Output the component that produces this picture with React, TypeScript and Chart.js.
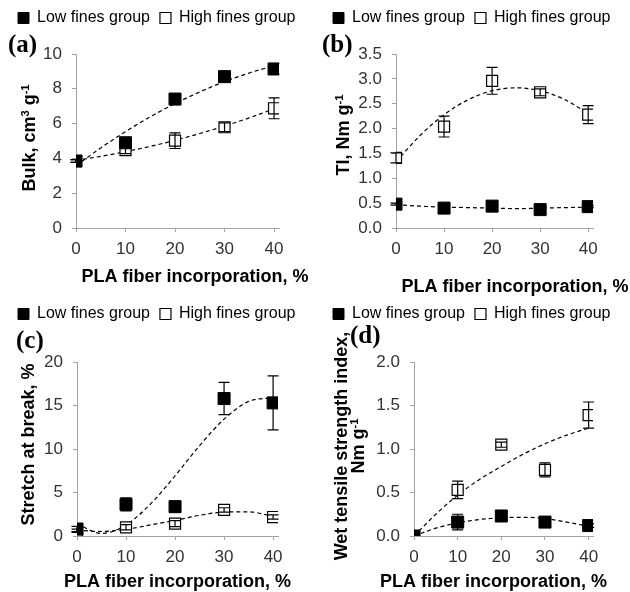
import React, { useEffect, useRef } from 'react';
import { Chart, registerables, layouts } from 'chart.js';

Chart.register(...registerables);

const FONT = '"Liberation Sans", Arial, Helvetica, sans-serif';
const SERIF = '"Liberation Serif", "Times New Roman", serif';
const AXIS = '#a3a3a3';
const TICK_COLOR = '#333333';

// ---------- shared data ----------
const SERIES_NAMES = ['Low fines group', 'High fines group'];
const X_VALUES = [0, 10, 20, 30, 40];
const X_TICKS = [0, 10, 20, 30, 40];
const X_MAX = 41;
const TREND_X = [0, 5, 10, 15, 20, 25, 30, 35, 40];
const X_TITLE = 'PLA fiber incorporation, %';
const PANEL_LABELS = ['(a)', '(b)', '(c)', '(d)'];

// ---------- (a) Bulk ----------
const BULK_TICKS = [0, 2, 4, 6, 8, 10];
const BULK_LOW = [3.85, 4.9, 7.41, 8.7, 9.14];
const BULK_LOW_ERR = [0.08, 0.12, 0.1, 0.1, 0.3];
const BULK_HIGH = [3.85, 4.48, 5.02, 5.79, 6.88];
const BULK_HIGH_ERR = [0.08, 0.2, 0.45, 0.25, 0.6];
const BULK_LOW_TREND = [3.58, 4.6, 5.54, 6.39, 7.15, 7.82, 8.41, 8.91, 9.33];
const BULK_HIGH_TREND = [3.89, 4.12, 4.39, 4.69, 5.04, 5.43, 5.86, 6.33, 6.85];

// ---------- (b) TI ----------
const TI_TICKS = [0, 0.5, 1.0, 1.5, 2.0, 2.5, 3.0, 3.5];
const TI_LOW = [0.48, 0.4, 0.44, 0.37, 0.43];
const TI_LOW_ERR = [0.02, 0.02, 0.02, 0.02, 0.02];
const TI_HIGH = [1.41, 2.04, 2.96, 2.73, 2.28];
const TI_HIGH_ERR = [0.1, 0.21, 0.27, 0.07, 0.18];
const TI_LOW_TREND = [0.47, 0.44, 0.42, 0.41, 0.4, 0.39, 0.4, 0.41, 0.42];
const TI_HIGH_TREND = [1.33, 1.86, 2.28, 2.58, 2.76, 2.82, 2.76, 2.59, 2.3];

// ---------- (c) Stretch ----------
const STRETCH_TICKS = [0, 5, 10, 15, 20];
const STRETCH_LOW = [0.8, 3.64, 3.37, 15.8, 15.3];
const STRETCH_LOW_ERR = [0.3, 0.75, 0.6, 1.85, 3.1];
const STRETCH_HIGH = [0.6, 1.0, 1.42, 3.0, 2.18];
const STRETCH_HIGH_ERR = [0.2, 0.3, 0.35, 0.25, 0.25];
const STRETCH_LOW_TREND = [1.39, 0.3, 1.27, 3.68, 6.92, 10.38, 13.43, 15.47, 15.89];
const STRETCH_HIGH_TREND = [0.68, 0.52, 0.77, 1.27, 1.8, 2.38, 2.75, 2.78, 2.25];

// ---------- (d) Wet tensile ----------
const WET_TICKS = [0, 0.5, 1.0, 1.5, 2.0];
const WET_LOW = [0, 0.16, 0.23, 0.16, 0.12];
const WET_LOW_ERR = [0, 0.09, 0.02, 0.02, 0.02];
const WET_HIGH = [0, 0.53, 1.05, 0.76, 1.39];
const WET_HIGH_ERR = [0, 0.1, 0.03, 0.08, 0.15];
const WET_LOW_TREND = [0.0, 0.09, 0.15, 0.19, 0.21, 0.215, 0.2, 0.16, 0.11];
const WET_HIGH_TREND = [0.0, 0.25, 0.47, 0.65, 0.8, 0.94, 1.06, 1.16, 1.24];

type Seg = { text: string; sup?: boolean };

const Y_TITLE_A: Seg[][] = [[{ text: 'Bulk, cm' }, { text: '3', sup: true }, { text: ' g' }, { text: '-1', sup: true }]];
const Y_TITLE_B: Seg[][] = [[{ text: 'TI, Nm g' }, { text: '-1', sup: true }]];
const Y_TITLE_C: Seg[][] = [[{ text: 'Stretch at break, %' }]];
const Y_TITLE_D: Seg[][] = [[{ text: 'Wet tensile strength index,' }], [{ text: 'Nm g' }, { text: '-1', sup: true }]];

const PANEL_W = 315;
const PANEL_H = 296;
const LEGEND_H = 36;
const PAD_LEFT = 8;
const TICK_SIZE = 17;

interface PanelSpec {
  pos: { left: number; top: number };
  label: string;
  labelX: number;
  labelY: number;
  yTitle: Seg[][];
  yTitleX: number[];
  yTitleY: number;
  xTitleX: number;
  xTitleY: number;
  area: { left: number; right: number; top: number; bottom: number };
  yTicks: number[];
  yDecimals: number;
  low: number[];
  lowErr: number[];
  high: number[];
  highErr: number[];
  lowTrend: number[];
  highTrend: number[];
}

const PANELS: PanelSpec[] = [
  {
    pos: { left: 0, top: 0 }, label: PANEL_LABELS[0], labelX: 8, labelY: 46,
    yTitle: Y_TITLE_A, yTitleX: [29], yTitleY: 138, xTitleX: 195, xTitleY: 276,
    area: { left: 76, right: 279, top: 54, bottom: 228 }, yTicks: BULK_TICKS, yDecimals: 0,
    low: BULK_LOW, lowErr: BULK_LOW_ERR, high: BULK_HIGH, highErr: BULK_HIGH_ERR,
    lowTrend: BULK_LOW_TREND, highTrend: BULK_HIGH_TREND,
  },
  {
    pos: { left: 315, top: 0 }, label: PANEL_LABELS[1], labelX: 7, labelY: 45.5,
    yTitle: Y_TITLE_B, yTitleX: [28], yTitleY: 135, xTitleX: 200, xTitleY: 286,
    area: { left: 81, right: 278, top: 54, bottom: 228 }, yTicks: TI_TICKS, yDecimals: 1,
    low: TI_LOW, lowErr: TI_LOW_ERR, high: TI_HIGH, highErr: TI_HIGH_ERR,
    lowTrend: TI_LOW_TREND, highTrend: TI_HIGH_TREND,
  },
  {
    pos: { left: 0, top: 296 }, label: PANEL_LABELS[2], labelX: 16, labelY: 45.5,
    yTitle: Y_TITLE_C, yTitleX: [28], yTitleY: 148.5, xTitleX: 177.5, xTitleY: 285,
    area: { left: 77, right: 278, top: 66, bottom: 240 }, yTicks: STRETCH_TICKS, yDecimals: 0,
    low: STRETCH_LOW, lowErr: STRETCH_LOW_ERR, high: STRETCH_HIGH, highErr: STRETCH_HIGH_ERR,
    lowTrend: STRETCH_LOW_TREND, highTrend: STRETCH_HIGH_TREND,
  },
  {
    pos: { left: 315, top: 296 }, label: PANEL_LABELS[3], labelX: 35, labelY: 41,
    yTitle: Y_TITLE_D, yTitleX: [25.5, 43], yTitleY: 150, xTitleX: 178.5, xTitleY: 285,
    area: { left: 99, right: 278, top: 66, bottom: 240 }, yTicks: WET_TICKS, yDecimals: 1,
    low: WET_LOW, lowErr: WET_LOW_ERR, high: WET_HIGH, highErr: WET_HIGH_ERR,
    lowTrend: WET_LOW_TREND, highTrend: WET_HIGH_TREND,
  },
];

function drawRich(ctx: CanvasRenderingContext2D, segs: Seg[], size: number, cx: number, cy: number) {
  const supSize = size * 0.62;
  const fontFor = (sup?: boolean) => `bold ${sup ? supSize : size}px ${FONT}`;
  let total = 0;
  const widths = segs.map((sg) => {
    ctx.font = fontFor(sg.sup);
    const w = ctx.measureText(sg.text).width;
    total += w;
    return w;
  });
  let x = cx - total / 2;
  const base = cy + size * 0.36;
  ctx.textBaseline = 'alphabetic';
  ctx.textAlign = 'left';
  segs.forEach((sg, i) => {
    ctx.font = fontFor(sg.sup);
    ctx.fillText(sg.text, x, sg.sup ? base - size * 0.38 : base);
    x += widths[i];
  });
}

function makeSpacerPlugin(topSize: number, rightSize: number) {
  const mk = (position: string, size: number) => ({
    position,
    weight: 500,
    fullSize: false,
    options: {},
    left: 0, top: 0, right: 0, bottom: 0, width: 0, height: 0,
    isHorizontal() { return position === 'top' || position === 'bottom'; },
    update(maxWidth: number, maxHeight: number) {
      if (this.isHorizontal()) { this.width = maxWidth; this.height = size; }
      else { this.width = size; this.height = maxHeight; }
    },
    draw() {},
  });
  return {
    id: 'spacer',
    beforeInit(chart: any) {
      layouts.addBox(chart, mk('top', topSize) as any);
      layouts.addBox(chart, mk('right', rightSize) as any);
    },
  };
}

const errorBarPlugin = {
  id: 'errorBars',
  afterDatasetsDraw(chart: any) {
    const ctx: CanvasRenderingContext2D = chart.ctx;
    const xs = chart.scales.x;
    const ys = chart.scales.y;
    chart.data.datasets.forEach((ds: any, i: number) => {
      const errs: number[] | undefined = ds.errorBars;
      if (!errs || !chart.isDatasetVisible(i)) return;
      ctx.save();
      ctx.strokeStyle = '#000';
      ctx.lineWidth = 1.2;
      ds.data.forEach((p: any, j: number) => {
        const e = errs[j];
        if (!e) return;
        const px = xs.getPixelForValue(p.x);
        const y1 = ys.getPixelForValue(p.y + e);
        const y2 = ys.getPixelForValue(p.y - e);
        ctx.beginPath();
        ctx.moveTo(px, y1); ctx.lineTo(px, y2);
        ctx.moveTo(px - 5.5, y1); ctx.lineTo(px + 5.5, y1);
        ctx.moveTo(px - 5.5, y2); ctx.lineTo(px + 5.5, y2);
        ctx.stroke();
      });
      ctx.restore();
    });
  },
};

function makeTextPlugin(p: PanelSpec) {
  return {
    id: 'panelTexts',
    afterDraw(chart: any) {
      const ctx: CanvasRenderingContext2D = chart.ctx;
      ctx.save();
      ctx.fillStyle = '#000';
      ctx.font = `bold 25px ${SERIF}`;
      ctx.textBaseline = 'middle';
      ctx.textAlign = 'left';
      ctx.fillText(p.label, p.labelX, p.labelY);
      drawRich(ctx, [{ text: X_TITLE }], 18, p.xTitleX, p.xTitleY);
      p.yTitle.forEach((segs, li) => {
        ctx.save();
        ctx.translate(p.yTitleX[li], p.yTitleY);
        ctx.rotate(-Math.PI / 2);
        drawRich(ctx, segs, 18, 0, 0);
        ctx.restore();
      });
      ctx.restore();
    },
  };
}

function buildConfig(p: PanelSpec): any {
  const pts = (xs: number[], ys: number[]) => xs.map((x, i) => ({ x, y: ys[i] }));
  const trend = (ys: number[]) => ({
    label: 'trend',
    data: pts(TREND_X, ys),
    showLine: true,
    pointRadius: 0,
    borderColor: '#000',
    backgroundColor: '#000',
    borderWidth: 1.2,
    borderDash: [4, 3],
    cubicInterpolationMode: 'monotone',
    fill: false,
  });
  const gridOpts = { display: true, drawOnChartArea: false, drawTicks: true, tickLength: 4, color: AXIS, tickColor: AXIS, lineWidth: 1 };
  const borderOpts = { display: true, color: AXIS, width: 1 };
  return {
    type: 'scatter',
    data: {
      datasets: [
        {
          label: SERIES_NAMES[0], data: pts(X_VALUES, p.low), errorBars: p.lowErr,
          pointStyle: 'rect', pointRadius: 8.5, backgroundColor: '#000', borderColor: '#000', borderWidth: 1,
        },
        {
          label: SERIES_NAMES[1], data: pts(X_VALUES, p.high), errorBars: p.highErr,
          pointStyle: 'rect', pointRadius: 7.8, backgroundColor: '#fff', borderColor: '#000', borderWidth: 1.2,
        },
        trend(p.lowTrend),
        trend(p.highTrend),
      ],
    },
    options: {
      responsive: false,
      animation: false,
      events: [],
      layout: { padding: { left: PAD_LEFT, right: 0, top: 0, bottom: 0 } },
      plugins: {
        legend: {
          display: true,
          position: 'top',
          align: 'start',
          labels: {
            filter: (item: any) => item.datasetIndex < 2,
            boxWidth: 11,
            boxHeight: 11,
            padding: 10,
            color: '#000',
            font: { family: FONT, size: 16 },
          },
        },
        tooltip: { enabled: false },
      },
      scales: {
        x: {
          type: 'linear',
          min: X_TICKS[0],
          max: X_MAX,
          afterBuildTicks: (s: any) => { s.ticks = X_TICKS.map((v) => ({ value: v })); },
          afterFit: (s: any) => { s.height = PANEL_H - p.area.bottom; },
          ticks: {
            font: { family: FONT, size: TICK_SIZE }, color: TICK_COLOR, padding: 7,
            maxRotation: 0, autoSkip: false, callback: (v: any) => String(v),
          },
          grid: gridOpts,
          border: borderOpts,
        },
        y: {
          type: 'linear',
          min: p.yTicks[0],
          max: p.yTicks[p.yTicks.length - 1],
          afterBuildTicks: (s: any) => { s.ticks = p.yTicks.map((v) => ({ value: v })); },
          afterFit: (s: any) => { s.width = p.area.left - PAD_LEFT; },
          ticks: {
            font: { family: FONT, size: TICK_SIZE }, color: TICK_COLOR, padding: 10,
            autoSkip: false, callback: (v: any) => Number(v).toFixed(p.yDecimals),
          },
          grid: gridOpts,
          border: borderOpts,
        },
      },
    },
    plugins: [makeSpacerPlugin(p.area.top - LEGEND_H, PANEL_W - p.area.right), errorBarPlugin, makeTextPlugin(p)],
  };
}

function Panel({ spec }: { spec: PanelSpec }) {
  const ref = useRef<HTMLCanvasElement>(null);
  useEffect(() => {
    if (!ref.current) return;
    const chart = new Chart(ref.current, buildConfig(spec));
    return () => chart.destroy();
  }, [spec]);
  return (
    <canvas
      ref={ref}
      width={PANEL_W}
      height={PANEL_H}
      style={{ position: 'absolute', left: spec.pos.left, top: spec.pos.top, width: PANEL_W, height: PANEL_H }}
    />
  );
}

export default function App() {
  return (
    <div style={{ position: 'absolute', left: 0, top: 0, width: 630, height: 592, background: '#fff', overflow: 'hidden' }}>
      {PANELS.map((p, i) => (
        <Panel key={i} spec={p} />
      ))}
    </div>
  );
}
